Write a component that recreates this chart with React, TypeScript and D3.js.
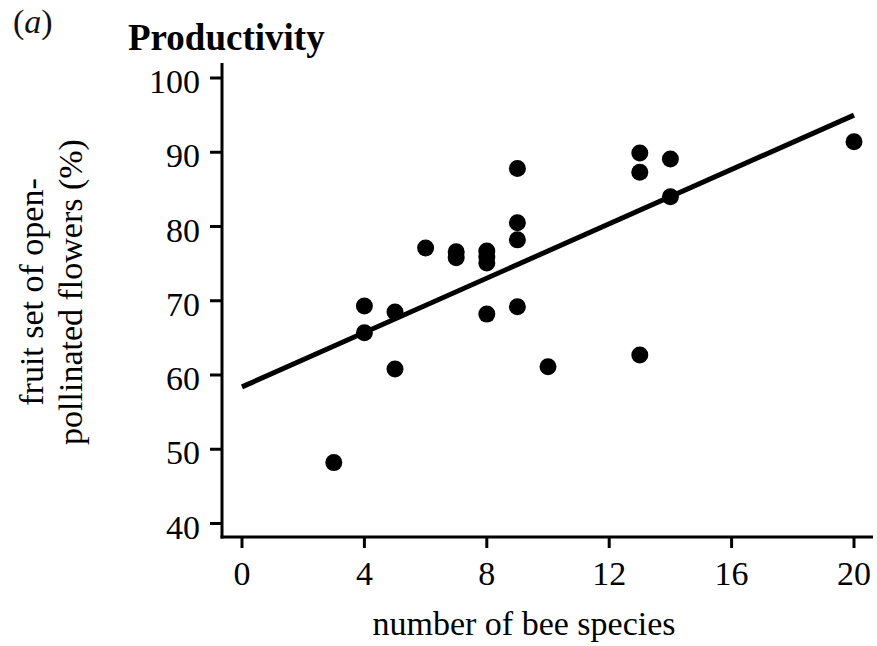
import React, { useEffect, useRef } from "react";
import * as d3 from "d3";

// bee species richness vs fruit set
const beeSpecies = [3, 4, 4, 5, 5, 6, 7, 7, 8, 8, 8, 8, 9, 9, 9, 9, 10, 13, 13, 13, 14, 14, 20];
const fruitSet = [
  48.2, 69.3, 65.7, 68.5, 60.8, 77.1, 76.6, 75.8, 76.7, 75.9, 75.1, 68.2, 87.8, 80.5, 78.2,
  69.2, 61.1, 89.9, 87.3, 62.7, 89.1, 84.0, 91.4,
];
const fitX = [0, 20];
const fitY = [58.4, 95.0];
const xTicks = [0, 4, 8, 12, 16, 20];
const yTicks = [40, 50, 60, 70, 80, 90, 100];

const W = 877;
const H = 646;
const FONT = "'Liberation Serif', 'Times New Roman', serif";

function App() {
  const ref = useRef<SVGSVGElement>(null);

  useEffect(() => {
    const svg = d3.select(ref.current);
    svg.selectAll("*").remove();

    const x = d3.scaleLinear().domain([0, 20]).range([242, 854]);
    const y = d3.scaleLinear().domain([40, 100]).range([523.5, 78]);
    const axisX = 222; // y-axis line position
    const axisY = 537; // x-axis line position

    // panel letter + title
    const lab = svg.append("text").attr("x", 13).attr("y", 33)
      .attr("font-family", FONT).attr("font-size", 34).attr("fill", "#111");
    lab.append("tspan").text("(");
    lab.append("tspan").attr("font-style", "italic").text("a");
    lab.append("tspan").text(")");

    svg.append("text").attr("x", 128).attr("y", 50)
      .attr("font-family", FONT).attr("font-size", 37).attr("font-weight", "bold")
      .text("Productivity");

    // axes lines
    svg.append("line").attr("x1", axisX).attr("x2", axisX).attr("y1", 63).attr("y2", axisY + 1.5)
      .attr("stroke", "#000").attr("stroke-width", 3);
    svg.append("line").attr("x1", axisX - 1.5).attr("x2", 873).attr("y1", axisY).attr("y2", axisY)
      .attr("stroke", "#000").attr("stroke-width", 3);

    // y ticks
    const yt = svg.append("g").selectAll("g").data(yTicks).join("g");
    yt.append("line").attr("x1", 210).attr("x2", axisX).attr("y1", (d) => y(d)).attr("y2", (d) => y(d))
      .attr("stroke", "#000").attr("stroke-width", 3);
    yt.append("text").attr("x", 200).attr("y", (d) => y(d) + 15)
      .attr("text-anchor", "end").attr("font-family", FONT).attr("font-size", 34)
      .text((d) => d);

    // x ticks
    const xt = svg.append("g").selectAll("g").data(xTicks).join("g");
    xt.append("line").attr("x1", (d) => x(d)).attr("x2", (d) => x(d)).attr("y1", axisY).attr("y2", 548)
      .attr("stroke", "#000").attr("stroke-width", 3);
    xt.append("text").attr("x", (d) => x(d)).attr("y", 585)
      .attr("text-anchor", "middle").attr("font-family", FONT).attr("font-size", 34)
      .text((d) => d);

    // axis titles
    svg.append("text").attr("x", 524).attr("y", 635)
      .attr("text-anchor", "middle").attr("font-family", FONT).attr("font-size", 34)
      .text("number of bee species");

    const yl = svg.append("text").attr("transform", "translate(43,292) rotate(-90)")
      .attr("text-anchor", "middle").attr("font-family", FONT).attr("font-size", 34);
    yl.append("tspan").attr("x", 0).attr("y", 0).text("fruit set of open-");
    yl.append("tspan").attr("x", 0).attr("y", 39).text("pollinated flowers (%)");

    // points
    svg.append("g").selectAll("circle").data(beeSpecies).join("circle")
      .attr("cx", (d) => x(d))
      .attr("cy", (d, i) => y(fruitSet[i]))
      .attr("r", 8.5)
      .attr("fill", "#000");

    // fitted line
    const line = d3.line<number>().x((d) => x(d)).y((d, i) => y(fitY[i]));
    svg.append("path").datum(fitX).attr("d", line)
      .attr("fill", "none").attr("stroke", "#000").attr("stroke-width", 5);
  }, []);

  return (
    <svg
      ref={ref}
      width={W}
      height={H}
      style={{ position: "absolute", left: 0, top: 0, background: "#fff" }}
    ></svg>
  );
}

export default App;
